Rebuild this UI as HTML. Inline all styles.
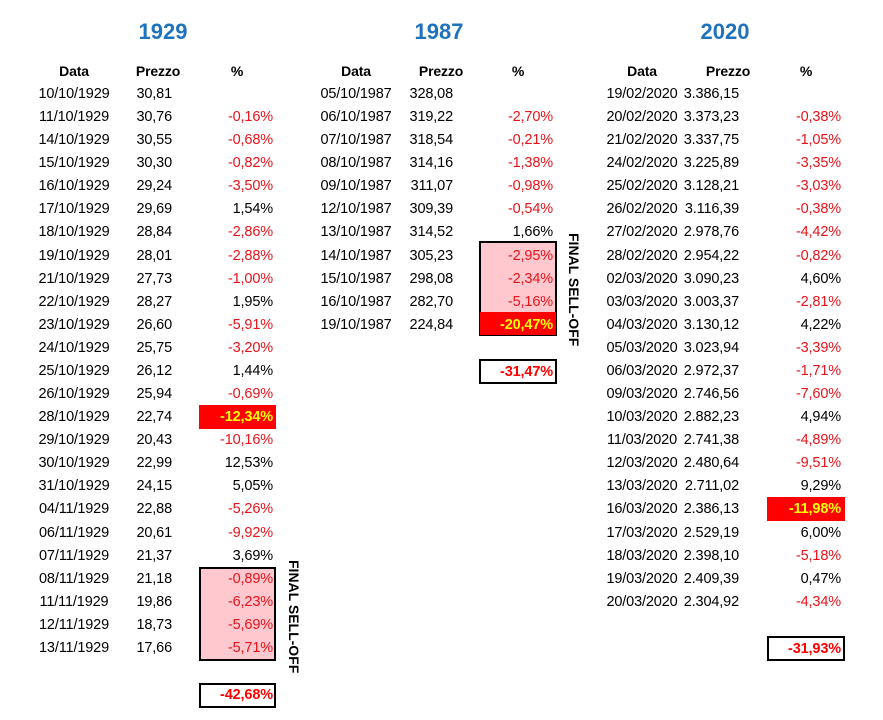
<!DOCTYPE html>
<html><head><meta charset="utf-8"><style>
body{margin:0;background:#fff;width:883px;height:720px;position:relative;overflow:hidden;font-family:"Liberation Sans",sans-serif;}
.t{position:absolute;font-size:14.5px;letter-spacing:-0.15px;line-height:20px;white-space:nowrap;color:#000;}
.title{position:absolute;font-size:22px;font-weight:bold;color:#1f73be;transform:translateX(-50%);}
.box{position:absolute;box-sizing:border-box;}
.vert{position:absolute;font-weight:bold;font-size:14px;writing-mode:vertical-rl;white-space:nowrap;}
</style></head><body>
<div class="title" style="left:163px;top:19px">1929</div>
<div class="title" style="left:439px;top:19px">1987</div>
<div class="title" style="left:725px;top:19px">2020</div>

<div class="box" style="left:199px;top:567px;width:77px;height:94px;background:#ffc7ce;border:2px solid #000"></div>
<div class="box" style="left:199px;top:405px;width:77px;height:24px;background:#ff0000"></div>
<div class="box" style="left:199px;top:683px;width:77px;height:25px;border:2px solid #000"></div>
<div class="vert" style="left:286px;top:560px">FINAL SELL-OFF</div>

<div class="box" style="left:479px;top:241px;width:78px;height:95px;background:#ffc7ce;border:2px solid #000"></div>
<div class="box" style="left:480px;top:312px;width:76px;height:23px;background:#ff0000"></div>
<div class="box" style="left:479px;top:359px;width:78px;height:25px;border:2px solid #000"></div>
<div class="vert" style="left:566px;top:233px">FINAL SELL-OFF</div>

<div class="box" style="left:767px;top:497px;width:78px;height:24px;background:#ff0000"></div>
<div class="box" style="left:767px;top:636px;width:78px;height:25px;border:2px solid #000"></div>

<script>
const dates1929=["10/10/1929","11/10/1929","14/10/1929","15/10/1929","16/10/1929","17/10/1929","18/10/1929","19/10/1929","21/10/1929","22/10/1929","23/10/1929","24/10/1929","25/10/1929","26/10/1929","28/10/1929","29/10/1929","30/10/1929","31/10/1929","04/11/1929","06/11/1929","07/11/1929","08/11/1929","11/11/1929","12/11/1929","13/11/1929"];
const prices1929=["30,81","30,76","30,55","30,30","29,24","29,69","28,84","28,01","27,73","28,27","26,60","25,75","26,12","25,94","22,74","20,43","22,99","24,15","22,88","20,61","21,37","21,18","19,86","18,73","17,66"];
const pcts1929=["","-0,16%","-0,68%","-0,82%","-3,50%","1,54%","-2,86%","-2,88%","-1,00%","1,95%","-5,91%","-3,20%","1,44%","-0,69%","-12,34%","-10,16%","12,53%","5,05%","-5,26%","-9,92%","3,69%","-0,89%","-6,23%","-5,69%","-5,71%"];
const dates1987=["05/10/1987","06/10/1987","07/10/1987","08/10/1987","09/10/1987","12/10/1987","13/10/1987","14/10/1987","15/10/1987","16/10/1987","19/10/1987"];
const prices1987=["328,08","319,22","318,54","314,16","311,07","309,39","314,52","305,23","298,08","282,70","224,84"];
const pcts1987=["","-2,70%","-0,21%","-1,38%","-0,98%","-0,54%","1,66%","-2,95%","-2,34%","-5,16%","-20,47%"];
const dates2020=["19/02/2020","20/02/2020","21/02/2020","24/02/2020","25/02/2020","26/02/2020","27/02/2020","28/02/2020","02/03/2020","03/03/2020","04/03/2020","05/03/2020","06/03/2020","09/03/2020","10/03/2020","11/03/2020","12/03/2020","13/03/2020","16/03/2020","17/03/2020","18/03/2020","19/03/2020","20/03/2020"];
const prices2020=["3.386,15","3.373,23","3.337,75","3.225,89","3.128,21","3.116,39","2.978,76","2.954,22","3.090,23","3.003,37","3.130,12","3.023,94","2.972,37","2.746,56","2.882,23","2.741,38","2.480,64","2.711,02","2.386,13","2.529,19","2.398,10","2.409,39","2.304,92"];
const pcts2020=["","-0,38%","-1,05%","-3,35%","-3,03%","-0,38%","-4,42%","-0,82%","4,60%","-2,81%","4,22%","-3,39%","-1,71%","-7,60%","4,94%","-4,89%","-9,51%","9,29%","-11,98%","6,00%","-5,18%","0,47%","-4,34%"];
const worst=["-12,34%","-20,47%","-11,98%"];
const totals=["-42,68%","-31,47%","-31,93%"];
const totalRows=[26,12,24];
const tables=[
 {y:"1929",d:dates1929,p:prices1929,q:pcts1929,dc:74,pr:172,qr:273,hp:158,hq:237},
 {y:"1987",d:dates1987,p:prices1987,q:pcts1987,dc:356,pr:453,qr:553,hp:441,hq:518},
 {y:"2020",d:dates2020,p:prices2020,q:pcts2020,dc:642,pr:739,qr:841,hp:728,hq:806}];
const rowY=i=>84+i*23.08;
function txt(s,x,y,align,style){
 const e=document.createElement('div');
 e.className='t';e.textContent=s;
 e.style.top=y+'px';
 if(align==='c'){e.style.left=x+'px';e.style.transform='translateX(-50%)';}
 else{e.style.right=(883-x)+'px';}
 Object.assign(e.style,style||{});
 document.body.appendChild(e);return e;
}
tables.forEach((t,ti)=>{
 let h=txt("Data",t.dc,61,'c',{fontWeight:'bold',fontSize:'14px'});
 
 
 h=txt("Prezzo",t.hp,61,'c',{fontWeight:'bold',fontSize:'14px'});
 
 
 h=txt("%",t.hq,61,'c',{fontWeight:'bold',fontSize:'14px'});
 
 
 t.d.forEach((d,i)=>{
  const y=rowY(i);
  let e=txt(d,t.dc,y,'c');
  
  
  e=txt(t.p[i],t.pr,y,'r');
  
  
  const q=t.q[i];
  if(q){
   let st={};
   if(q===worst[ti])st={color:'#ffff00',fontWeight:'bold'};
   else if(q[0]==='-')st={color:'#e8141b'};
   e=txt(q,t.qr,y,'r',st);
   
   
  }
 });
 const e=txt(totals[ti],t.qr,rowY(totalRows[ti])+1,'r',{color:'#ff0000',fontWeight:'bold'});
 
 
});
</script>
</body></html>
